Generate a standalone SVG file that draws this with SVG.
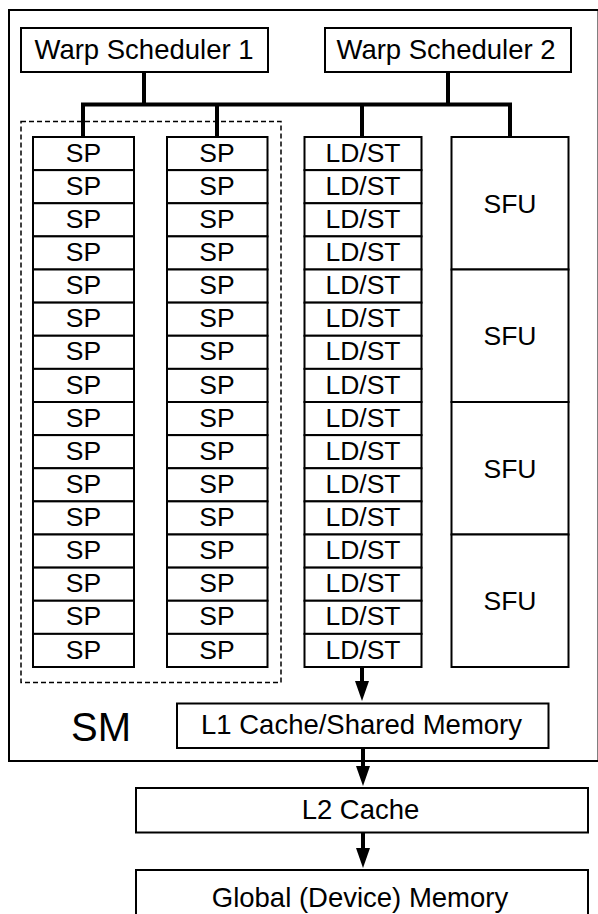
<svg xmlns="http://www.w3.org/2000/svg" width="598" height="914" viewBox="0 0 598 914">
<style>
.box{fill:#fff;stroke:#000;stroke-width:2}
.t{font-family:"Liberation Sans",Arial,Helvetica,sans-serif;font-size:26.5px;text-anchor:middle;fill:#000}
.tl{font-family:"Liberation Sans",Arial,Helvetica,sans-serif;font-size:27.5px;text-anchor:middle;fill:#000}
.bus{fill:none;stroke:#000;stroke-width:4;stroke-linejoin:miter}
.arr{fill:none;stroke:#000;stroke-width:4;marker-end:url(#ah)}
</style>
<defs>
<marker id="ah" markerUnits="userSpaceOnUse" viewBox="0 -8 21 16" refX="1" refY="0" markerWidth="21" markerHeight="16" orient="auto">
<path d="M0,-7 L20,0 L0,7 Z" fill="#000"/>
</marker>
</defs>
<rect width="598" height="914" fill="#fff"/>
<g id="sm">
<rect class="box" x="9" y="10" width="589.5" height="751"/>
<text x="101" y="741" font-family="'Liberation Sans',Arial,sans-serif" font-size="40" text-anchor="middle">SM</text>
</g>
<g id="sp-group">
<rect x="21" y="121.5" width="260" height="561" fill="none" stroke="#000" stroke-width="1.5" stroke-dasharray="5 3"/>
</g>
<g id="ws1"><rect class="box" x="21" y="28" width="247" height="44"/><text class="tl" x="144" y="58.5">Warp Scheduler 1</text></g>
<g id="ws2"><rect class="box" x="325" y="28" width="246" height="44"/><text class="tl" x="446" y="58.5">Warp Scheduler 2</text></g>
<g id="sp1">
<rect class="box" x="33" y="137" width="101" height="33.125"/><text class="t" x="83.5" y="161.7">SP</text>
<rect class="box" x="33" y="170.125" width="101" height="33.125"/><text class="t" x="83.5" y="194.8">SP</text>
<rect class="box" x="33" y="203.25" width="101" height="33.125"/><text class="t" x="83.5" y="227.95">SP</text>
<rect class="box" x="33" y="236.375" width="101" height="33.125"/><text class="t" x="83.5" y="261.1">SP</text>
<rect class="box" x="33" y="269.5" width="101" height="33.125"/><text class="t" x="83.5" y="294.2">SP</text>
<rect class="box" x="33" y="302.625" width="101" height="33.125"/><text class="t" x="83.5" y="327.3">SP</text>
<rect class="box" x="33" y="335.75" width="101" height="33.125"/><text class="t" x="83.5" y="360.45">SP</text>
<rect class="box" x="33" y="368.875" width="101" height="33.125"/><text class="t" x="83.5" y="393.6">SP</text>
<rect class="box" x="33" y="402" width="101" height="33.125"/><text class="t" x="83.5" y="426.7">SP</text>
<rect class="box" x="33" y="435.125" width="101" height="33.125"/><text class="t" x="83.5" y="459.8">SP</text>
<rect class="box" x="33" y="468.25" width="101" height="33.125"/><text class="t" x="83.5" y="492.95">SP</text>
<rect class="box" x="33" y="501.375" width="101" height="33.125"/><text class="t" x="83.5" y="526.1">SP</text>
<rect class="box" x="33" y="534.5" width="101" height="33.125"/><text class="t" x="83.5" y="559.2">SP</text>
<rect class="box" x="33" y="567.625" width="101" height="33.125"/><text class="t" x="83.5" y="592.3">SP</text>
<rect class="box" x="33" y="600.75" width="101" height="33.125"/><text class="t" x="83.5" y="625.45">SP</text>
<rect class="box" x="33" y="633.875" width="101" height="33.125"/><text class="t" x="83.5" y="658.6">SP</text>
</g>
<g id="sp2">
<rect class="box" x="167" y="137" width="100.5" height="33.125"/><text class="t" x="217" y="161.7">SP</text>
<rect class="box" x="167" y="170.125" width="100.5" height="33.125"/><text class="t" x="217" y="194.8">SP</text>
<rect class="box" x="167" y="203.25" width="100.5" height="33.125"/><text class="t" x="217" y="227.95">SP</text>
<rect class="box" x="167" y="236.375" width="100.5" height="33.125"/><text class="t" x="217" y="261.1">SP</text>
<rect class="box" x="167" y="269.5" width="100.5" height="33.125"/><text class="t" x="217" y="294.2">SP</text>
<rect class="box" x="167" y="302.625" width="100.5" height="33.125"/><text class="t" x="217" y="327.3">SP</text>
<rect class="box" x="167" y="335.75" width="100.5" height="33.125"/><text class="t" x="217" y="360.45">SP</text>
<rect class="box" x="167" y="368.875" width="100.5" height="33.125"/><text class="t" x="217" y="393.6">SP</text>
<rect class="box" x="167" y="402" width="100.5" height="33.125"/><text class="t" x="217" y="426.7">SP</text>
<rect class="box" x="167" y="435.125" width="100.5" height="33.125"/><text class="t" x="217" y="459.8">SP</text>
<rect class="box" x="167" y="468.25" width="100.5" height="33.125"/><text class="t" x="217" y="492.95">SP</text>
<rect class="box" x="167" y="501.375" width="100.5" height="33.125"/><text class="t" x="217" y="526.1">SP</text>
<rect class="box" x="167" y="534.5" width="100.5" height="33.125"/><text class="t" x="217" y="559.2">SP</text>
<rect class="box" x="167" y="567.625" width="100.5" height="33.125"/><text class="t" x="217" y="592.3">SP</text>
<rect class="box" x="167" y="600.75" width="100.5" height="33.125"/><text class="t" x="217" y="625.45">SP</text>
<rect class="box" x="167" y="633.875" width="100.5" height="33.125"/><text class="t" x="217" y="658.6">SP</text>
</g>
<g id="ldst">
<rect class="box" x="304.5" y="137" width="117" height="33.125"/><text class="t" x="363" y="161.7">LD/ST</text>
<rect class="box" x="304.5" y="170.125" width="117" height="33.125"/><text class="t" x="363" y="194.8">LD/ST</text>
<rect class="box" x="304.5" y="203.25" width="117" height="33.125"/><text class="t" x="363" y="227.95">LD/ST</text>
<rect class="box" x="304.5" y="236.375" width="117" height="33.125"/><text class="t" x="363" y="261.1">LD/ST</text>
<rect class="box" x="304.5" y="269.5" width="117" height="33.125"/><text class="t" x="363" y="294.2">LD/ST</text>
<rect class="box" x="304.5" y="302.625" width="117" height="33.125"/><text class="t" x="363" y="327.3">LD/ST</text>
<rect class="box" x="304.5" y="335.75" width="117" height="33.125"/><text class="t" x="363" y="360.45">LD/ST</text>
<rect class="box" x="304.5" y="368.875" width="117" height="33.125"/><text class="t" x="363" y="393.6">LD/ST</text>
<rect class="box" x="304.5" y="402" width="117" height="33.125"/><text class="t" x="363" y="426.7">LD/ST</text>
<rect class="box" x="304.5" y="435.125" width="117" height="33.125"/><text class="t" x="363" y="459.8">LD/ST</text>
<rect class="box" x="304.5" y="468.25" width="117" height="33.125"/><text class="t" x="363" y="492.95">LD/ST</text>
<rect class="box" x="304.5" y="501.375" width="117" height="33.125"/><text class="t" x="363" y="526.1">LD/ST</text>
<rect class="box" x="304.5" y="534.5" width="117" height="33.125"/><text class="t" x="363" y="559.2">LD/ST</text>
<rect class="box" x="304.5" y="567.625" width="117" height="33.125"/><text class="t" x="363" y="592.3">LD/ST</text>
<rect class="box" x="304.5" y="600.75" width="117" height="33.125"/><text class="t" x="363" y="625.45">LD/ST</text>
<rect class="box" x="304.5" y="633.875" width="117" height="33.125"/><text class="t" x="363" y="658.6">LD/ST</text>
</g>
<g id="sfu">
<rect class="box" x="451.5" y="137" width="117" height="132.5"/><text class="t" x="510" y="212.5">SFU</text>
<rect class="box" x="451.5" y="269.5" width="117" height="132.5"/><text class="t" x="510" y="345">SFU</text>
<rect class="box" x="451.5" y="402" width="117" height="132.5"/><text class="t" x="510" y="477.5">SFU</text>
<rect class="box" x="451.5" y="534.5" width="117" height="132.5"/><text class="t" x="510" y="610">SFU</text>
</g>
<g id="l1"><rect class="box" x="177" y="703.5" width="371.5" height="44.5"/><text class="tl" x="361.5" y="734">L1 Cache/Shared Memory</text></g>
<g id="l2"><rect class="box" x="136" y="788" width="452" height="44.5"/><text class="tl" x="360.5" y="818.5">L2 Cache</text></g>
<g id="global"><rect class="box" x="136" y="870" width="452" height="60"/><text class="tl" x="360" y="906.5">Global (Device) Memory</text></g>
<g id="connectors">
<path class="bus" d="M144,72 V104.5"/>
<path class="bus" d="M448,72 V104.5"/>
<path class="bus" d="M83,137 V104.5 H510 V137"/>
<path class="bus" d="M217,104.5 V137"/>
<path class="bus" d="M362,104.5 V137"/>
<path class="arr" d="M362,667 V682"/>
<path class="arr" d="M363,748 V767"/>
<path class="arr" d="M363,832.5 V849"/>
</g>
</svg>
